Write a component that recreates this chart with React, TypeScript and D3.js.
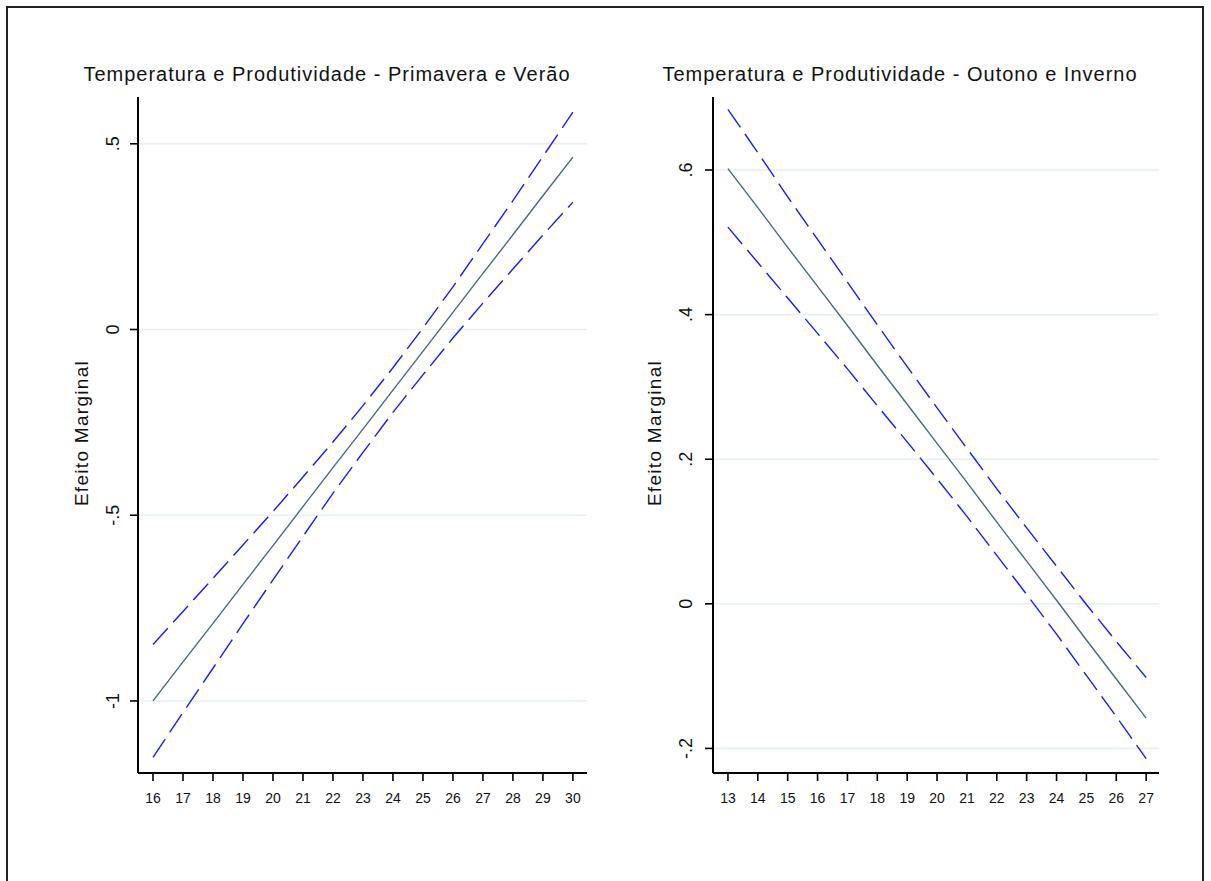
import React from 'react';
import * as d3 from 'd3';

// Primavera e Verão
const springTemps = [16, 17, 18, 19, 20, 21, 22, 23, 24, 25, 26, 27, 28, 29, 30];
const springMean = [-1.0, -0.895, -0.791, -0.686, -0.582, -0.477, -0.372, -0.268, -0.163, -0.059, 0.046, 0.151, 0.255, 0.36, 0.464];
const springUpper = [-0.848, -0.759, -0.67, -0.58, -0.49, -0.397, -0.303, -0.205, -0.103, 0.004, 0.115, 0.231, 0.347, 0.466, 0.585];
const springLower = [-1.152, -1.031, -0.912, -0.792, -0.674, -0.557, -0.441, -0.331, -0.223, -0.122, -0.023, 0.071, 0.163, 0.254, 0.343];
const springYTicks = [0.5, 0, -0.5, -1];
const springYLabels = ['.5', '0', '-.5', '-1'];

// Outono e Inverno
const autumnTemps = [13, 14, 15, 16, 17, 18, 19, 20, 21, 22, 23, 24, 25, 26, 27];
const autumnMean = [0.602, 0.548, 0.493, 0.439, 0.385, 0.33, 0.276, 0.222, 0.168, 0.113, 0.059, 0.005, -0.05, -0.104, -0.158];
const autumnUpper = [0.684, 0.624, 0.563, 0.504, 0.445, 0.386, 0.328, 0.271, 0.215, 0.159, 0.105, 0.052, -0.001, -0.052, -0.102];
const autumnLower = [0.521, 0.472, 0.423, 0.374, 0.325, 0.274, 0.224, 0.173, 0.121, 0.067, 0.013, -0.042, -0.099, -0.156, -0.214];
const autumnYTicks = [0.6, 0.4, 0.2, 0, -0.2];
const autumnYLabels = ['.6', '.4', '.2', '0', '-.2'];

const FONT = '"Liberation Sans", Arial, sans-serif';

type PanelProps = {
  title: string;
  titleX: number;
  temps: number[];
  mean: number[];
  upper: number[];
  lower: number[];
  yTicks: number[];
  yLabels: string[];
  xDomain: [number, number];
  yDomain: [number, number];
  left: number;
  right: number;
  yLabelX: number;
  tickLabelX: number;
};

function Panel(props: PanelProps) {
  const { title, titleX, temps, mean, upper, lower, yTicks, yLabels, xDomain, yDomain, left, right, yLabelX, tickLabelX } = props;
  const top = 97;
  const bottom = 773;

  const x = d3.scaleLinear().domain(xDomain).range([left, right]);
  const y = d3.scaleLinear().domain(yDomain).range([bottom, top]);

  const line = d3
    .line<number>()
    .x((_, i) => x(temps[i]))
    .y(v => y(v));

  return (
    <g>
      <text x={titleX} y={81} textAnchor="middle" fontFamily={FONT} fontSize={20} letterSpacing={1} fill="#111">
        {title}
      </text>

      {yTicks.map(t => (
        <line key={'g' + t} x1={left} x2={right} y1={y(t)} y2={y(t)} stroke="#e6eff1" strokeWidth={1.6} />
      ))}

      <path d={line(upper) || ''} fill="none" stroke="#1a1aff" strokeWidth={1.4} strokeDasharray="22,8" />
      <path d={line(lower) || ''} fill="none" stroke="#1a1aff" strokeWidth={1.4} strokeDasharray="22,8" />
      <path d={line(mean) || ''} fill="none" stroke="#4a6a78" strokeWidth={1.4} />

      {/* y axis */}
      <line x1={left} x2={left} y1={top} y2={bottom} stroke="#000" strokeWidth={2} />
      {yTicks.map((t, i) => (
        <g key={'y' + t}>
          <line x1={left - 8} x2={left} y1={y(t)} y2={y(t)} stroke="#000" strokeWidth={1.6} />
          <text
            transform={`translate(${tickLabelX}, ${y(t)}) rotate(-90)`}
            textAnchor="middle"
            fontFamily={FONT}
            fontSize={18}
            fill="#111"
          >
            {yLabels[i]}
          </text>
        </g>
      ))}
      <text
        transform={`translate(${yLabelX}, 433) rotate(-90)`}
        textAnchor="middle"
        fontFamily={FONT}
        fontSize={19}
        letterSpacing={1.3}
        fill="#111"
      >
        Efeito Marginal
      </text>

      {/* x axis */}
      <line x1={left} x2={right} y1={bottom} y2={bottom} stroke="#000" strokeWidth={2} />
      {temps.map(t => (
        <g key={'x' + t}>
          <line x1={x(t)} x2={x(t)} y1={bottom} y2={bottom + 8} stroke="#000" strokeWidth={1.6} />
          <text x={x(t)} y={803} textAnchor="middle" fontFamily={FONT} fontSize={14} fill="#111">
            {t}
          </text>
        </g>
      ))}
    </g>
  );
}

export default function App() {
  return (
    <svg
      width={1211}
      height={881}
      viewBox="0 0 1211 881"
      style={{ position: 'absolute', left: 0, top: 0, background: '#fff' }}
    >
      <rect x={0} y={0} width={1211} height={881} fill="#fff" />
      <rect x={7} y={7} width={1196} height={900} fill="none" stroke="#222" strokeWidth={2} />
      <Panel
        title="Temperatura e Produtividade - Primavera e Verão"
        titleX={327}
        temps={springTemps}
        mean={springMean}
        upper={springUpper}
        lower={springLower}
        yTicks={springYTicks}
        yLabels={springYLabels}
        xDomain={[15.5, 30.47]}
        yDomain={[-1.194, 0.626]}
        left={138}
        right={587}
        yLabelX={88}
        tickLabelX={119}
      />
      <Panel
        title="Temperatura e Produtividade - Outono e Inverno"
        titleX={900}
        temps={autumnTemps}
        mean={autumnMean}
        upper={autumnUpper}
        lower={autumnLower}
        yTicks={autumnYTicks}
        yLabels={autumnYLabels}
        xDomain={[12.5, 27.43]}
        yDomain={[-0.234, 0.701]}
        left={713}
        right={1159}
        yLabelX={661}
        tickLabelX={692}
      />
    </svg>
  );
}
